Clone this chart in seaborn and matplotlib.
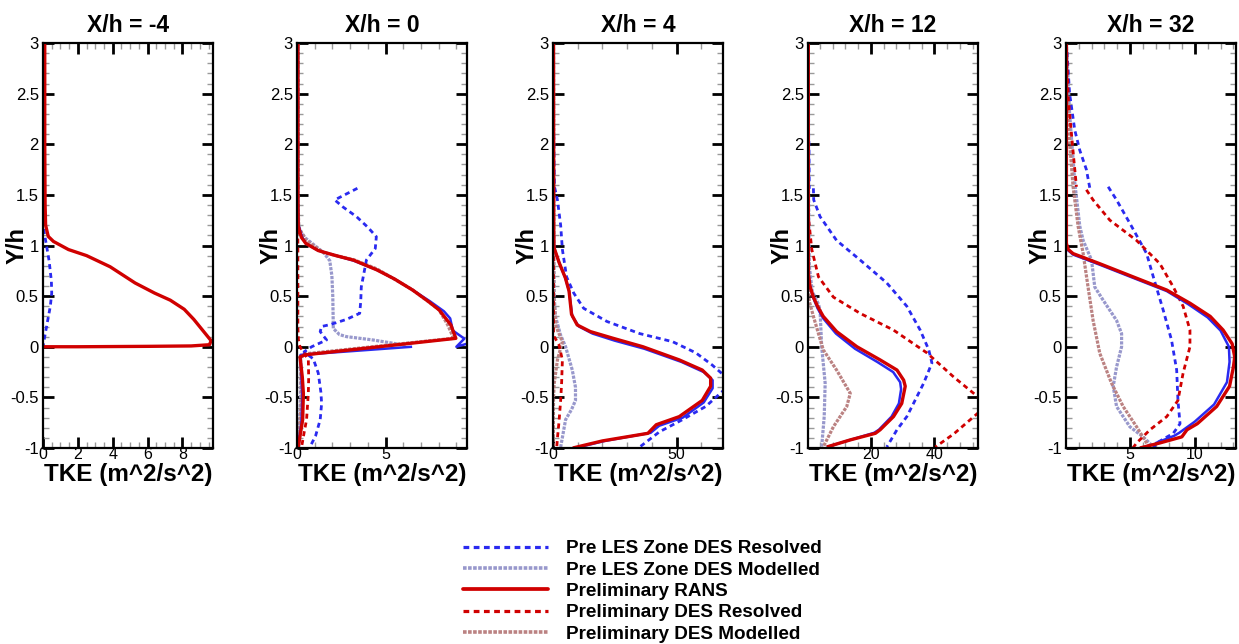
import numpy as np
import pandas as pd
import matplotlib
matplotlib.use("Agg")
import matplotlib.pyplot as plt
from matplotlib.ticker import MultipleLocator, FuncFormatter
from matplotlib.lines import Line2D
import seaborn as sns

# ---------------- data (TKE, Y/h) ; None = break in the curve ----------------
STATIONS = ["-4", "0", "4", "12", "32"]
TITLES = ["X/h = -4", "X/h = 0", "X/h = 4", "X/h = 12", "X/h = 32"]
X_LIMITS = [(0, 9.75), (0, 9.6), (0, 68.8), (0.2, 53.7), (0.02, 13.2)]
X_MAJOR = [2, 5, 50, 20, 5]
X_MINOR = [0.5, 1, 10, 4, 1]

LEGEND_LABELS = ["Pre LES Zone DES Resolved", "Pre LES Zone DES Modelled",
                 "Preliminary RANS", "Preliminary DES Resolved",
                 "Preliminary DES Modelled"]

# X/h = -4
XM4_RANS = [(0.1, 3.0), (0.1, 2.0), (0.12, 1.4), (0.15, 1.2), (0.3, 1.09), (0.6, 1.04),
            (1.46, 0.96), (2.5, 0.9), (3.85, 0.79), (5.28, 0.63), (6.4, 0.53), (7.3, 0.46),
            (8.1, 0.37), (8.65, 0.27), (9.31, 0.13), (9.64, 0.06), (9.55, 0.02), (8.5, 0.008),
            (6.0, 0.004), (2.0, 0.0), (0.0, 0.0)]
XM4_LES_RES = [(0.0, 1.25), (0.05, 1.15), (0.2, 1.0), (0.35, 0.85), (0.48, 0.65), (0.5, 0.53),
               (0.42, 0.4), (0.28, 0.27), (0.12, 0.12), (0.0, 0.0)]

# X/h = 0
X0_RANS = [(0.05, 3.0), (0.05, 1.5), (0.07, 1.19), (0.25, 1.08), (0.5, 1.02), (1.2, 0.95),
           (2.2, 0.9), (3.2, 0.855), (4.5, 0.76), (5.5, 0.67), (6.53, 0.56), (7.4, 0.45),
           (8.03, 0.363), (8.69, 0.215), (8.97, 0.083), (0.45, -0.08), (0.17, -0.1),
           (0.3, -0.3), (0.36, -0.46), (0.32, -0.72), (0.2, -0.85), (0.07, -0.99)]
X0_LES_RANS = [(0.05, 3.0), (0.05, 1.5), (0.08, 1.2), (0.3, 1.08), (0.5, 1.02), (1.2, 0.95),
               (2.2, 0.9), (3.2, 0.85), (4.5, 0.76), (5.5, 0.67), (6.53, 0.56), (7.5, 0.45),
               (8.3, 0.35), (8.65, 0.28), (8.8, 0.16), (9.45, 0.08), (9.0, 0.0), (9.6, 0.03), None,
               (6.5, 0.0), (0.2, -0.08), (0.25, -0.3), (0.3, -0.5), (0.25, -0.75), (0.05, -1.0)]
X0_LES_RES = [(3.41, 1.565), (2.13, 1.45), (2.6, 1.38), (3.36, 1.285), (4.0, 1.18), (4.48, 1.087),
              (4.42, 0.97), (3.92, 0.857), (3.75, 0.7), (3.63, 0.59), (3.6, 0.45), (3.54, 0.33),
              (2.79, 0.27), (1.9, 0.22), (1.39, 0.2), (1.31, 0.15), (1.67, 0.067), (0.83, 0.0),
              (0.4, -0.05), (0.92, -0.12), (1.2, -0.26), (1.35, -0.45), (1.39, -0.56),
              (1.31, -0.72), (1.05, -0.88), (0.73, -0.99)]
X0_LES_MOD = [(0.05, 3.0), (0.05, 1.25), (0.15, 1.15), (0.5, 1.07), (1.0, 1.0), (1.5, 0.93),
              (1.85, 0.85), (1.97, 0.7), (2.02, 0.5), (2.04, 0.3), (2.05, 0.18), (2.4, 0.12),
              (2.79, 0.1), (4.29, 0.067), (5.41, 0.035), (6.2, 0.01), None,
              (0.2, -0.08), (0.2, -0.5), (0.1, -1.0)]
X0_DES_RES = [(0.05, 3.0), (0.05, 0.2), (0.08, 0.07), (0.17, 0.0), (0.64, -0.13), (0.66, -0.3),
              (0.64, -0.46), (0.54, -0.72), (0.4, -0.85), (0.26, -0.99)]
X0_DES_MOD = [(0.05, 3.0), (0.05, 1.5), (0.1, 1.18), (0.5, 1.05), (1.5, 0.93), (3.2, 0.86),
              (4.5, 0.77), (6.5, 0.565), (8.0, 0.37), (8.5, 0.22), (8.8, 0.1), (8.9, 0.085),
              (0.45, -0.07), (0.2, -0.1), (0.25, -0.5), (0.15, -0.8), (0.05, -1.0)]

# X/h = 4
X4_RANS = [(0.2, 3.0), (0.3, 1.15), (0.4, 0.98), (2.5, 0.83), (5.0, 0.68), (6.5, 0.55),
           (7.5, 0.32), (9.8, 0.215), (15.1, 0.15), (24.4, 0.083), (36.4, 0.0), (51.1, -0.13),
           (60.4, -0.23), (63.8, -0.31), (63.8, -0.39), (60.4, -0.53), (51.1, -0.69),
           (41.8, -0.77), (38.4, -0.855), (20.0, -0.93), (8.0, -1.0)]
X4_LES_RANS = [(0.2, 3.0), (0.3, 1.15), (0.4, 0.98), (2.5, 0.83), (5.0, 0.68), (6.5, 0.55),
               (7.8, 0.3), (10.5, 0.2), (16.0, 0.13), (25.0, 0.06), (37.0, -0.02), (52.0, -0.15),
               (61.0, -0.25), (64.6, -0.33), (64.6, -0.41), (61.0, -0.55), (52.5, -0.7),
               (43.0, -0.78), (39.5, -0.85), (21.0, -0.93), (9.0, -1.0)]
X4_LES_RES = [(0.3, 2.1), (0.4, 1.85), (0.6, 1.58), (1.8, 1.45), (3.1, 1.2), (3.8, 0.96),
              (5.5, 0.69), (8.4, 0.53), (12.4, 0.38), (21.8, 0.25), (35.1, 0.13), (48.4, 0.05),
              (57.8, -0.06), (64.4, -0.18), (70.0, -0.3), (72.0, -0.35), (70.0, -0.41),
              (61.8, -0.59), (52.4, -0.72), (43.1, -0.84), (35.1, -0.99)]
X4_LES_MOD = [(0.2, 3.0), (0.3, 1.0), (0.5, 0.5), (1.0, 0.3), (3.0, 0.12), (5.1, 0.0),
              (7.8, -0.23), (9.1, -0.4), (9.1, -0.53), (7.5, -0.62), (5.1, -0.72), (3.1, -0.99)]
X4_DES_RES = [(0.2, 3.0), (0.2, 0.15), (0.5, 0.1), (2.4, 0.02), (3.8, -0.13), (3.5, -0.35),
              (3.1, -0.53), (2.4, -0.75), (1.8, -0.9), (1.5, -1.0)]
X4_DES_MOD = [(0.2, 3.0), (0.3, 0.5), (1.2, 0.2), (3.8, 0.05), (1.8, -0.13), (0.5, -0.36),
              (0.2, -0.5), (0.1, -1.0)]

# X/h = 12
X12_RANS = [(0.3, 3.0), (0.3, 1.0), (0.35, 0.72), (0.8, 0.6), (1.9, 0.49), (3.2, 0.4),
            (5.0, 0.3), (9.2, 0.15), (15.6, 0.0), (22.9, -0.13), (28.2, -0.23), (30.3, -0.33),
            (30.8, -0.39), (29.7, -0.56), (27.1, -0.69), (22.9, -0.82), (21.4, -0.855),
            (13.5, -0.92), (6.1, -0.99)]
X12_LES_RANS = [(0.3, 3.0), (0.3, 0.72), (0.8, 0.6), (1.9, 0.48), (3.2, 0.38), (5.0, 0.28),
                (9.0, 0.13), (15.0, -0.02), (22.0, -0.15), (27.0, -0.25), (29.2, -0.35),
                (29.5, -0.42), (28.8, -0.56), (26.5, -0.69), (22.5, -0.82), (21.0, -0.85),
                (13.5, -0.92), (6.1, -0.99)]
X12_LES_RES = [(0.2, 3.0), (0.3, 2.2), (0.5, 2.0), (0.6, 1.56), None,
               (1.9, 1.565), (2.0, 1.45), (4.0, 1.285), (9.2, 1.05), (16.6, 0.857), (25.0, 0.63),
               (31.3, 0.40), (35.5, 0.165), (38.2, -0.03), (39.2, -0.16), (36.6, -0.36),
               (33.4, -0.56), (31.3, -0.69), (28.2, -0.82), (25.0, -0.99)]
X12_LES_MOD = [(0.3, 3.0), (0.4, 1.5), (0.6, 0.8), (1.5, 0.55), (3.5, 0.42), (4.0, 0.36),
               (4.5, 0.0), (5.6, -0.36), (5.3, -0.69), (4.5, -0.99)]
X12_DES_RES = [(0.3, 3.0), (0.3, 1.29), (1.4, 0.96), (3.5, 0.69), (8.2, 0.49), (16.6, 0.33),
               (27.1, 0.165), (37.6, -0.06), (46.1, -0.30), (53.5, -0.49), (57.0, -0.57),
               (53.5, -0.66), (46.1, -0.86), (40.3, -0.99)]
X12_DES_MOD = [(0.3, 3.0), (0.3, 0.6), (0.6, 0.45), (1.9, 0.30), (5.0, -0.03), (9.2, -0.23),
               (13.5, -0.46), (12.4, -0.59), (8.2, -0.79), (5.0, -0.99)]

# X/h = 32
X32_RANS = [(0.05, 3.0), (0.05, 1.02), (0.2, 0.96), (0.57, 0.92), (2.64, 0.82), (5.23, 0.69),
            (7.83, 0.56), (9.63, 0.43), (11.2, 0.30), (12.2, 0.165), (12.9, 0.03), (13.1, -0.1),
            (13.0, -0.2), (12.7, -0.39), (11.7, -0.59), (10.2, -0.76), (9.4, -0.82),
            (9.0, -0.89), (7.3, -0.95), (5.75, -1.0)]
X32_LES_RANS = [(0.05, 3.0), (0.05, 1.0), (0.2, 0.95), (0.57, 0.91), (2.64, 0.81), (5.23, 0.68),
                (7.83, 0.55), (9.5, 0.42), (11.0, 0.29), (12.0, 0.16), (12.65, 0.0),
                (12.7, -0.15), (12.5, -0.35), (11.5, -0.57), (10.0, -0.74), (8.8, -0.85),
                (8.4, -0.88), (7.0, -0.95), (6.8, -1.0)]
X32_LES_RES = [(0.05, 3.0), (0.3, 2.5), (0.7, 2.14), (1.09, 1.94), (1.6, 1.75), (1.87, 1.565),
               None,
               (3.29, 1.58), (3.94, 1.45), (5.1, 1.19), (6.27, 0.92), (6.79, 0.69), (7.56, 0.36),
               (8.2, 0.067), (8.6, -0.23), (8.7, -0.53), (8.86, -0.76), (8.34, -0.855),
               (7.05, -0.95), (6.8, -1.0)]
X32_LES_MOD = [(0.05, 3.0), (0.3, 2.3), (0.6, 1.8), (0.7, 1.62), (1.09, 1.19), (1.35, 1.05),
               (2.0, 0.857), (2.25, 0.59), (2.9, 0.46), (3.94, 0.26), (4.33, 0.13), (4.33, 0.0),
               (3.94, -0.2), (3.68, -0.39), (3.94, -0.59), (4.97, -0.79), (6.0, -0.89),
               (6.8, -0.99)]
X32_DES_RES = [(0.05, 3.0), (0.2, 2.45), (0.5, 2.02), (0.83, 1.58), None,
               (1.6, 1.55), (2.12, 1.45), (3.42, 1.25), (5.49, 1.05), (7.3, 0.82), (8.34, 0.59),
               (9.1, 0.40), (9.63, 0.165), (9.63, 0.0), (9.1, -0.26), (8.7, -0.53),
               (7.83, -0.69), (6.53, -0.82), (5.5, -0.95), (5.2, -1.0)]
X32_DES_MOD = [(0.05, 3.0), (0.1, 2.5), (0.3, 2.02), (0.57, 1.58), (0.96, 1.19), (1.35, 0.92),
               (1.73, 0.59), (2.12, 0.26), (2.64, -0.065), (3.55, -0.36), (4.45, -0.59),
               (5.49, -0.79), (6.27, -0.95), (6.5, -1.0)]

# ---------------- assemble long table ----------------
CURVES = {
    "-4": {"les_res": XM4_LES_RES, "rans": XM4_RANS},
    "0": {"les_mod": X0_LES_MOD, "des_mod": X0_DES_MOD, "les_res": X0_LES_RES,
          "des_res": X0_DES_RES, "les_rans": X0_LES_RANS, "rans": X0_RANS},
    "4": {"les_mod": X4_LES_MOD, "des_mod": X4_DES_MOD, "les_res": X4_LES_RES,
          "des_res": X4_DES_RES, "les_rans": X4_LES_RANS, "rans": X4_RANS},
    "12": {"les_mod": X12_LES_MOD, "des_mod": X12_DES_MOD, "les_res": X12_LES_RES,
           "des_res": X12_DES_RES, "les_rans": X12_LES_RANS, "rans": X12_RANS},
    "32": {"les_mod": X32_LES_MOD, "des_mod": X32_DES_MOD, "les_res": X32_LES_RES,
           "des_res": X32_DES_RES, "les_rans": X32_LES_RANS, "rans": X32_RANS},
}
rows = []
for st, series in CURVES.items():
    for name, pts in series.items():
        seg = 0
        for p in pts:
            if p is None:
                seg += 1
                continue
            rows.append({"station": st, "series": name, "seg": seg, "tke": p[0], "y": p[1]})
df = pd.DataFrame(rows)

BLUE = "#2a2af0"
RED = "#d00000"
STYLES = {
    "les_mod": dict(color="#9898cc", lw=2.3, ls=(0, (1.0, 0.4))),
    "des_mod": dict(color="#bb8282", lw=2.3, ls=(0, (1.0, 0.4))),
    "les_res": dict(color=BLUE, lw=2.0, ls=(0, (1.8, 1.4))),
    "des_res": dict(color=RED, lw=2.0, ls=(0, (1.8, 1.4))),
    "les_rans": dict(color=BLUE, lw=1.8, ls="-"),
    "rans": dict(color=RED, lw=2.4, ls="-"),
}
ORDER = ["les_mod", "des_mod", "les_res", "des_res", "les_rans", "rans"]

# ---------------- figure ----------------
sns.set_theme(style="white")
plt.rcParams["font.family"] = ["Liberation Sans", "DejaVu Sans"]
plt.rcParams["axes.unicode_minus"] = False
plt.rcParams.update({"text.color": "black", "axes.labelcolor": "black",
                     "xtick.color": "black", "ytick.color": "black"})

W, H = 1239, 644
fig = plt.figure(figsize=(W / 100, H / 100), dpi=100)
LEFTS = [43, 297, 553, 808, 1066]
AX_W, AX_H, AX_B = 170, 405, 196

fmt = FuncFormatter(lambda v, p: f"{v:g}")
for i, st in enumerate(STATIONS):
    ax = fig.add_axes([LEFTS[i] / W, AX_B / H, AX_W / W, AX_H / H])
    sub_st = df[df["station"] == st]
    for name in ORDER:
        sub = sub_st[sub_st["series"] == name]
        if sub.empty:
            continue
        s = STYLES[name]
        sns.lineplot(data=sub, x="tke", y="y", units="seg", estimator=None, sort=False,
                     ax=ax, color=s["color"], linewidth=s["lw"], linestyle=s["ls"],
                     legend=False, solid_capstyle="butt", dash_capstyle="butt")
    ax.set_xlim(*X_LIMITS[i])
    ax.set_ylim(-1, 3)
    ax.xaxis.set_major_locator(MultipleLocator(X_MAJOR[i]))
    ax.xaxis.set_minor_locator(MultipleLocator(X_MINOR[i]))
    ax.yaxis.set_major_locator(MultipleLocator(0.5))
    ax.yaxis.set_minor_locator(MultipleLocator(0.1))
    ax.xaxis.set_major_formatter(fmt)
    ax.yaxis.set_major_formatter(fmt)
    ax.tick_params(which="both", direction="in", top=True, right=True,
                   bottom=True, left=True, labelsize=12, labelcolor="black")
    ax.tick_params(which="major", length=8, width=2, color="black")
    ax.tick_params(which="minor", length=4, width=1, color="#9a9a9a")
    ax.tick_params(axis="x", which="major", pad=-1, labelsize=11.5)
    ax.tick_params(axis="y", which="major", pad=3)
    for sp in ax.spines.values():
        sp.set_visible(True)
        sp.set_linewidth(1.6)
        sp.set_color("black")
    ax.set_title(TITLES[i], fontsize=16.5, fontweight="bold", pad=8, color="black")
    ax.set_xlabel("TKE (m^2/s^2)", fontsize=17.5, fontweight="bold")
    ax.set_ylabel("Y/h", fontsize=17, fontweight="bold")
    ax.xaxis.set_label_coords(0.5, -0.038)
    ax.xaxis.label.set_va("top")
    ax.yaxis.set_label_coords(-0.085, 0.5)
    ax.grid(False)

handles = []
for name in ["les_res", "les_mod", "rans", "des_res", "des_mod"]:
    s = STYLES[name]
    handles.append(Line2D([], [], color=s["color"], lw=s["lw"] + 0.3, ls=s["ls"]))
fig.legend(handles, LEGEND_LABELS, loc="upper left", bbox_to_anchor=(463 / W, 1 - 540 / H),
           frameon=False, borderpad=0, borderaxespad=0, handlelength=4.5,
           handletextpad=0.95, labelspacing=0.22,
           prop={"family": "Liberation Sans", "weight": "bold", "size": 13.6})

fig.savefig("out.png", dpi=100)
